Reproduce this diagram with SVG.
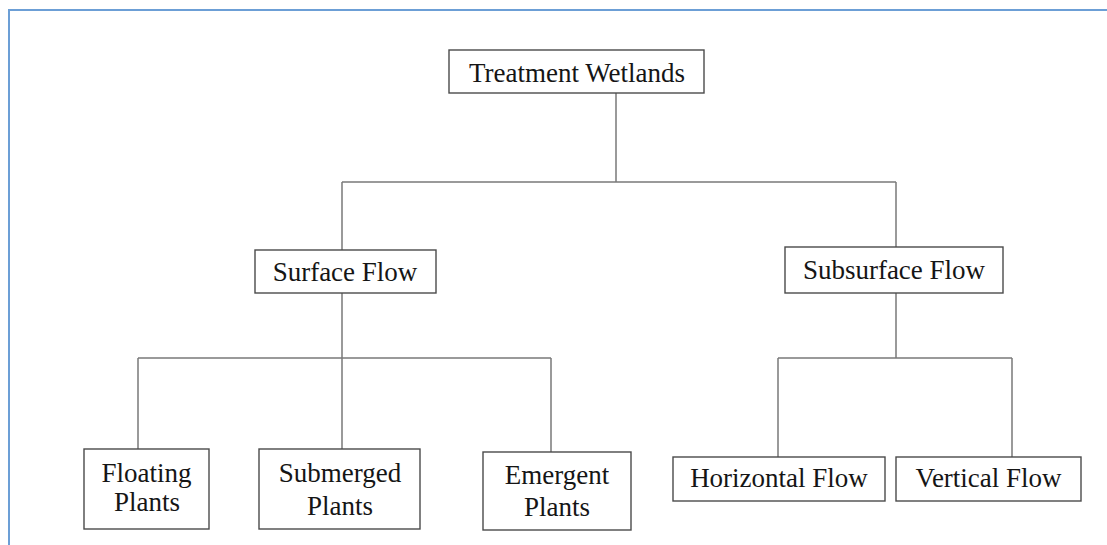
<svg xmlns="http://www.w3.org/2000/svg" width="1107" height="545" viewBox="0 0 1107 545">
<style>
.box{fill:#ffffff;stroke:#4a4a4a;stroke-width:1.4}
.lbl{font-size:27px;fill:#151515;text-anchor:middle}
.conn{stroke:#7a7a7a;stroke-width:1.5;fill:none}
.frame{stroke:#6c9fd6;stroke-width:2;fill:none}
</style>
<rect x="0" y="0" width="1107" height="545" fill="#ffffff"/>
<path class="frame" d="M9,545 V10 H1107"/>
<g id="connectors">
<path class="conn" d="M616,93 V182 M342,182 H896 M342,182 V250 M896,182 V247"/>
<path class="conn" d="M342,293 V449 M138,358 H551 M138,358 V449 M551,358 V452"/>
<path class="conn" d="M896,293 V358 M778,358 H1012 M778,358 V457 M1012,358 V457"/>
</g>
<g font-family="'Liberation Serif', 'Times New Roman', Tinos, 'DejaVu Serif', serif">
<g id="treatment-wetlands">
<rect class="box" x="449" y="50" width="255" height="43"/>
<text class="lbl" x="577" y="82">Treatment Wetlands</text>
</g>
<g id="surface-flow">
<rect class="box" x="255" y="250" width="181" height="43"/>
<text class="lbl" x="345" y="281">Surface Flow</text>
</g>
<g id="subsurface-flow">
<rect class="box" x="785" y="247" width="218" height="46"/>
<text class="lbl" x="894" y="279">Subsurface Flow</text>
</g>
<g id="floating-plants">
<rect class="box" x="84" y="449" width="125" height="80"/>
<text class="lbl" x="146.5" y="482">Floating</text>
<text class="lbl" x="147" y="511">Plants</text>
</g>
<g id="submerged-plants">
<rect class="box" x="259" y="449" width="161" height="80"/>
<text class="lbl" x="340" y="482">Submerged</text>
<text class="lbl" x="340" y="515">Plants</text>
</g>
<g id="emergent-plants">
<rect class="box" x="483" y="452" width="148" height="78"/>
<text class="lbl" x="557" y="484">Emergent</text>
<text class="lbl" x="557" y="516">Plants</text>
</g>
<g id="horizontal-flow">
<rect class="box" x="673" y="457" width="212" height="44"/>
<text class="lbl" x="779" y="487">Horizontal Flow</text>
</g>
<g id="vertical-flow">
<rect class="box" x="896" y="457" width="185" height="44"/>
<text class="lbl" x="988.5" y="487">Vertical Flow</text>
</g>
</g>
</svg>
